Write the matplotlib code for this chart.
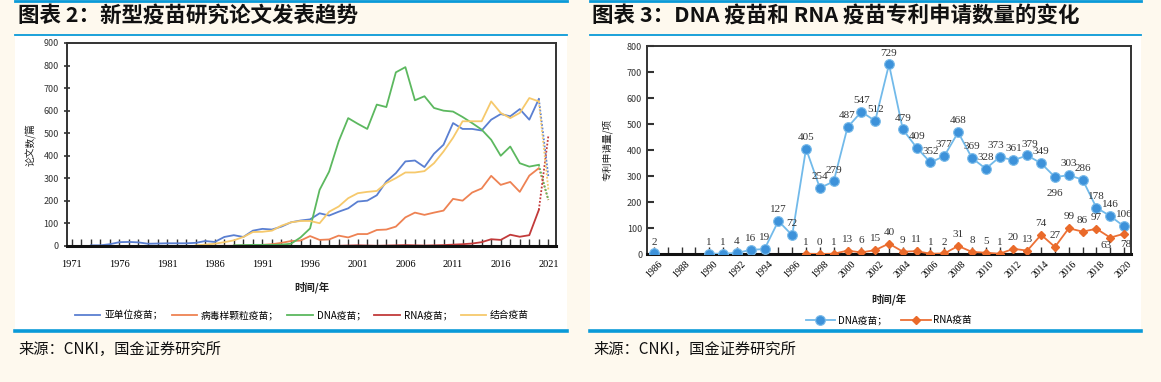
import matplotlib.pyplot as plt
import numpy as np
from matplotlib.patches import Rectangle
from matplotlib.lines import Line2D

plt.rcParams['font.family'] = ['Noto Sans CJK SC', 'DejaVu Sans']

nan = np.nan

# ---- left chart data: papers per year (1971-2021) ----
years_l = np.arange(1971, 2022)
subunit = [nan, nan, 3, 3, 8, 17, 18, 16, 10, 11, 12, 12, 12, 14, 22, 18, 40, 48, 40, 68,
           76, 73, 86, 105, 113, 118, 145, 135, 152, 167, 197, 201, 225, 286, 323, 375, 379, 350, 409, 449,
           545, 519, 519, 512, 560, 585, 575, 607, 560, 652, 308]
vlp = [nan, nan, nan, nan, nan, nan, nan, nan, nan, nan, nan, nan, nan, nan, nan, 1, 1, 1, 2, 3,
       5, 8, 14, 22, 24, 44, 27, 29, 46, 38, 53, 53, 71, 73, 86, 127, 148, 138, 148, 157,
       209, 201, 237, 255, 311, 271, 284, 240, 312, 345, 204]
dna_l = [nan, nan, nan, nan, nan, nan, nan, nan, nan, nan, nan, nan, nan, nan, nan, nan, nan, 3, 4, 5,
         5, 5, 6, 10, 38, 78, 249, 330, 464, 567, 542, 519, 627, 616, 770, 793, 646, 664, 612, 600,
         596, 572, 545, 516, 471, 400, 441, 367, 352, 360, 204]
rna_l = [nan, nan, nan, nan, nan, nan, nan, nan, nan, nan, nan, nan, nan, nan, nan, nan, nan, nan, nan, nan,
         nan, nan, nan, nan, nan, nan, nan, nan, 1, 2, 3, 2, 1, 2, 3, 4, 3, 2, 3, 4,
         6, 8, 11, 17, 30, 27, 50, 41, 48, 160, 489]
combo = [nan, nan, nan, nan, nan, nan, nan, nan, nan, nan, nan, nan, nan, 3, 6, 10, 17, 25, 40, 62,
         63, 68, 90, 105, 111, 111, 101, 152, 175, 212, 234, 240, 244, 279, 301, 326, 326, 332, 367, 419,
         480, 553, 553, 553, 641, 590, 567, 590, 656, 641, 250]

names_l = ['亚单位疫苗；', '病毒样颗粒疫苗；', 'DNA疫苗；', 'RNA疫苗；', '结合疫苗']
colors_l = ['#5a7fd1', '#ee8253', '#5cb85f', '#c23a3a', '#f6c96c']

# ---- right chart data: patent applications (1986-2020) ----
years_r = np.arange(1986, 2021)
dna_r = [2, nan, nan, nan, 1, 1, 4, 16, 19, 127, 72, 405, 254, 279, 487, 547, 512, 729,
         479, 409, 352, 377, 468, 369, 328, 373, 361, 379, 349, 296, 303, 286, 178, 146, 106]
rna_r = [nan] * 11 + [1, 0, 1, 13, 6, 15, 40, 9, 11, 1, 2, 31, 8, 5, 1, 20, 13, 74, 27,
                      99, 86, 97, 63, 78]

W, H = 1161, 382
bg = '#fef9ee'
line_blue = '#0a9ad8'

fig = plt.figure(figsize=(W / 100, H / 100), dpi=100, facecolor=bg)

def fx(px):
    return px / W

def fy(py):
    return 1 - py / H

# panel backgrounds, rules, sources
for x0, x1 in [(15, 567), (590, 1141)]:
    fig.patches.append(Rectangle((fx(x0), fy(330)), fx(x1 - x0), (330 - 36) / H,
                                 transform=fig.transFigure, facecolor='white', edgecolor='none',
                                 zorder=-5))
    for yy, lw in [(1, 2.0), (34.5, 1.3), (331, 2.6)]:
        fig.lines.append(Line2D([fx(x0), fx(x1)], [fy(yy), fy(yy)], transform=fig.transFigure,
                                color=line_blue, lw=lw, zorder=-4))
    fig.text(fx(x0 + 3), fy(349), '来源：CNKI，国金证券研究所', fontsize=11, va='center', color='#111')

fig.text(fx(18), fy(16), '图表 2：新型疫苗研究论文发表趋势', fontsize=15.5, fontweight='bold',
         va='center', color='#111')
fig.text(fx(592), fy(16), '图表 3：DNA 疫苗和 RNA 疫苗专利申请数量的变化', fontsize=15.5,
         fontweight='bold', va='center', color='#111')

# ---------------- left chart ----------------
ax1 = fig.add_axes([fx(67), fy(246), fx(556 - 67), (246 - 43) / H])
ax1.set_zorder(2)
ax1.set_facecolor('white')
series = [subunit, vlp, dna_l, rna_l, combo]
for vals, c, nm in zip(series, colors_l, names_l):
    v = np.array(vals, dtype=float)
    ax1.plot(years_l[:-1], v[:-1], color=c, lw=1.3, label=nm)
    ax1.plot(years_l[-2:], v[-2:], color=c, lw=1.3, ls=(0, (1, 1)))

ax1.set_xlim(1970.5, 2021.8)
ax1.set_ylim(0, 900)
ax1.set_yticks(range(0, 901, 100))
ax1.set_xticks(range(1971, 2022))
ax1.set_xticklabels([str(y) if (y - 1971) % 5 == 0 else '' for y in range(1971, 2022)],
                    family='Liberation Serif', fontsize=7.5)
ax1.tick_params(axis='x', direction='in', length=5, width=1, color='#333', pad=10)
ax1.tick_params(axis='y', direction='inout', length=5, width=1.2, labelsize=6.5, colors='#333')
for s in ax1.spines.values():
    s.set_linewidth(1.4)
    s.set_color('#333')
ax1.spines['bottom'].set_linewidth(2.2)
ax1.spines['bottom'].set_color('#111')
ax1.set_ylabel('论文数/篇', fontsize=7, labelpad=5, color='#222')
ax1.set_xlabel('时间/年', fontsize=7.5, labelpad=9, color='#222', fontweight='bold')
ax1.legend(loc='center', bbox_to_anchor=(fx(302), fy(315)), bbox_transform=fig.transFigure,
           ncol=5, frameon=False, fontsize=7, handlelength=2.6, columnspacing=0.9,
           handletextpad=0.4)

# ---------------- right chart ----------------
ax2 = fig.add_axes([fx(647), fy(254), fx(1131 - 647), (254 - 46) / H])
ax2.set_zorder(2)
ax2.set_facecolor('white')
ax2.plot(years_r, dna_r, color='#72baea', lw=1.3, marker='o', markersize=7,
         markerfacecolor='#3d92da', markeredgecolor='#7bbcea', markeredgewidth=0.8,
         label='DNA疫苗；', zorder=3)
ax2.plot(years_r, rna_r, color='#ec7035', lw=1.3, marker='D', markersize=4.5,
         markerfacecolor='#ea6a2a', markeredgecolor='#ea6a2a', label='RNA疫苗', zorder=3)

for y, v in zip(years_r, dna_r):
    if np.isnan(v):
        continue
    off = (0, 5)
    if v == 296:
        off = (0, -15)
    elif v == 373:
        off = (-3, 5)
    elif v == 379:
        off = (2, 5)
    ax2.annotate(str(int(v)), (y, v), xytext=off, textcoords='offset points', ha='center',
                 va='bottom', fontsize=8, family='Liberation Serif', color='#333')
for y, v in zip(years_r, rna_r):
    if np.isnan(v):
        continue
    if y == 2019:
        off, va = (-3, -6), 'center'
    elif y == 2020:
        off, va = (1, -8), 'center'
    else:
        off, va = (0, 5), 'bottom'
    ax2.annotate(str(int(v)), (y, v), xytext=off, textcoords='offset points', ha='center',
                 va=va, fontsize=8, family='Liberation Serif', color='#333', zorder=5)

ax2.set_xlim(1985.5, 2020.5)
ax2.set_ylim(0, 800)
ax2.set_yticks(range(0, 801, 100))
ax2.set_xticks(years_r)
ax2.set_xticklabels([str(y) if (y - 1986) % 2 == 0 else '' for y in years_r], rotation=45,
                    ha='center', family='Liberation Serif', fontsize=7)
ax2.tick_params(axis='x', direction='in', length=5, width=1, color='#333', pad=4)
ax2.tick_params(axis='y', direction='in', length=5, width=1.5, labelsize=6.5, colors='#333')
for s in ax2.spines.values():
    s.set_linewidth(1.4)
    s.set_color('#333')
ax2.spines['bottom'].set_linewidth(2.2)
ax2.spines['bottom'].set_color('#111')
ax2.set_ylabel('专利申请量/项', fontsize=7, labelpad=10, color='#222')
ax2.set_xlabel('时间/年', fontsize=7.5, labelpad=10, color='#222', fontweight='bold')
ax2.legend(loc='center', bbox_to_anchor=(fx(889), fy(320)), bbox_transform=fig.transFigure,
           ncol=2, frameon=False, fontsize=7, handlelength=3.0, columnspacing=1.5,
           handletextpad=0.3)

fig.savefig('out.png', dpi=100, facecolor=bg)
